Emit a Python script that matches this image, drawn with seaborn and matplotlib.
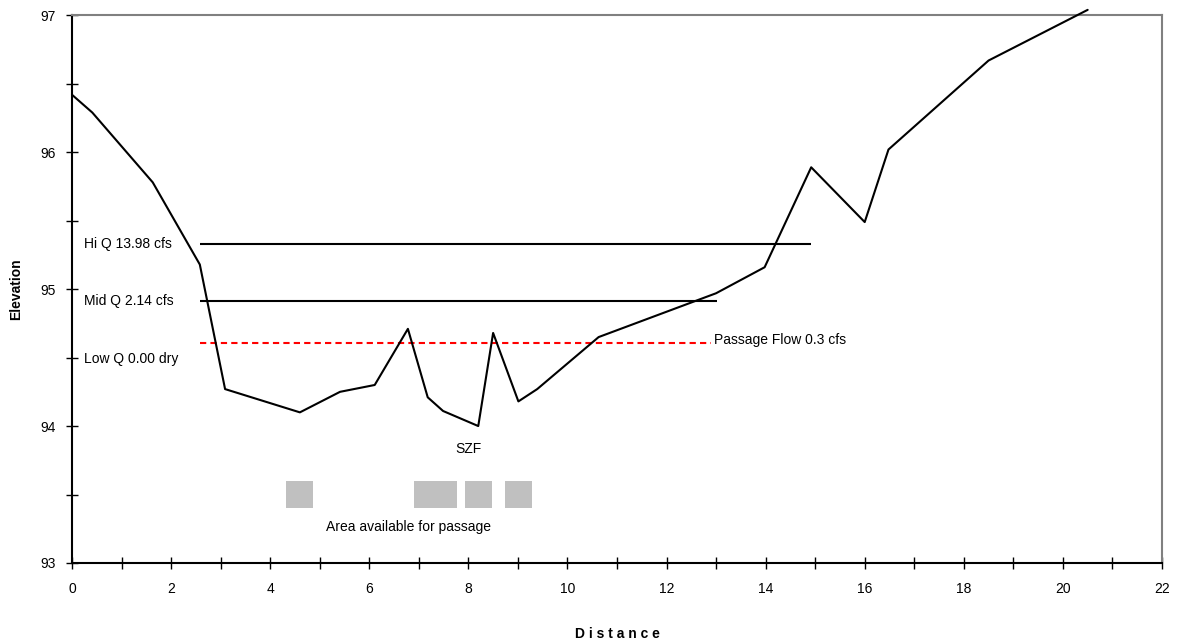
import numpy as np
import pandas as pd
import matplotlib
matplotlib.use("Agg")
import matplotlib.pyplot as plt
import seaborn as sns

sns.set_style("white")
plt.rcParams['font.family'] = ['Liberation Sans', 'DejaVu Sans']
plt.rcParams['text.color'] = 'black'
plt.rcParams['axes.labelcolor'] = 'black'
plt.rcParams['xtick.color'] = 'black'
plt.rcParams['ytick.color'] = 'black'

# channel cross-section
distance = [0, 0.41, 1.63, 2.58, 3.09, 4.60, 5.41, 6.11, 6.78, 7.18, 7.49, 8.20,
            8.50, 9.01, 9.39, 10.63, 13.0, 13.98, 14.92, 16.0, 16.48, 18.5, 20.5]
elevation = [96.42, 96.29, 95.78, 95.18, 94.27, 94.10, 94.25, 94.30, 94.71, 94.21,
             94.11, 94.00, 94.68, 94.18, 94.27, 94.65, 94.97, 95.16, 95.89, 95.49,
             96.02, 96.67, 97.04]

# water surface lines
wl_labels = ["Hi Q 13.98 cfs", "Mid Q 2.14 cfs"]
wl_elev = [95.33, 94.91]
wl_start = [2.58, 2.58]
wl_end = [14.92, 13.02]
passage_elev = 94.61
passage_start = 2.58
passage_end = 12.9
low_q_label = "Low Q 0.00 dry"
low_q_elev = 94.49

# area available for passage (marker positions)
passage_x = [4.60, 7.18, 7.49, 8.20, 9.01]
passage_y = [93.5, 93.5, 93.5, 93.5, 93.5]

df = pd.DataFrame({"Distance": distance, "Elevation": elevation})
pas = pd.DataFrame({"x": passage_x, "y": passage_y})

fig = plt.figure(figsize=(11.84, 6.39), dpi=100)
ax = fig.add_axes([0.0608, 0.119, 0.9206, 0.857])

sns.lineplot(data=df, x="Distance", y="Elevation", sort=False, color="black",
             linewidth=1.5, ax=ax, clip_on=False, zorder=4)
sns.scatterplot(data=pas, x="x", y="y", marker="s", s=380, color="#C0C0C0",
                edgecolor="none", ax=ax, zorder=2)

ax.hlines(wl_elev, wl_start, wl_end, colors="black", linewidth=1.5, zorder=3)
ax.hlines(passage_elev, passage_start, passage_end, colors="red", linewidth=1.5,
          linestyles=(0, (3, 2)), zorder=3)

for lab, y in zip(wl_labels, wl_elev):
    ax.text(0.25, y, lab, fontsize=10, va="center", ha="left")
ax.text(0.25, low_q_elev, low_q_label, fontsize=10, va="center", ha="left")
ax.text(passage_end + 0.05, passage_elev + 0.02, "Passage Flow 0.3 cfs", fontsize=10,
        va="center", ha="left")
ax.text(8.0, 93.83, "SZF", fontsize=10, ha="center", va="center")
ax.text(6.8, 93.26, "Area available for passage", fontsize=10, ha="center", va="center")

ax.set_xlim(0, 22)
ax.set_ylim(93, 97)
ax.set_xticks(np.arange(0, 23, 2))
ax.set_xticks(np.arange(0, 23, 1), minor=True)
ax.set_yticks([93, 94, 95, 96, 97])
ax.set_yticks(np.arange(93, 97.01, 0.5), minor=True)
ax.tick_params(axis="both", which="both", direction="inout", color="black",
               labelsize=10, bottom=True, left=True, top=False, right=False)
ax.tick_params(axis="both", which="major", length=8, width=1, pad=10)
ax.tick_params(axis="both", which="minor", length=8, width=1)
ax.tick_params(axis="y", which="major", pad=8)

for s in ["left", "bottom"]:
    ax.spines[s].set_color("black")
    ax.spines[s].set_linewidth(1.5)
for s in ["top", "right"]:
    ax.spines[s].set_color("#808080")
    ax.spines[s].set_linewidth(1.5)

ax.set_xlabel("D i s t a n c e", fontsize=10, fontweight="bold", labelpad=22)
ax.set_ylabel("Elevation", fontsize=10, fontweight="bold", labelpad=12)

fig.savefig("out.png", dpi=100)
